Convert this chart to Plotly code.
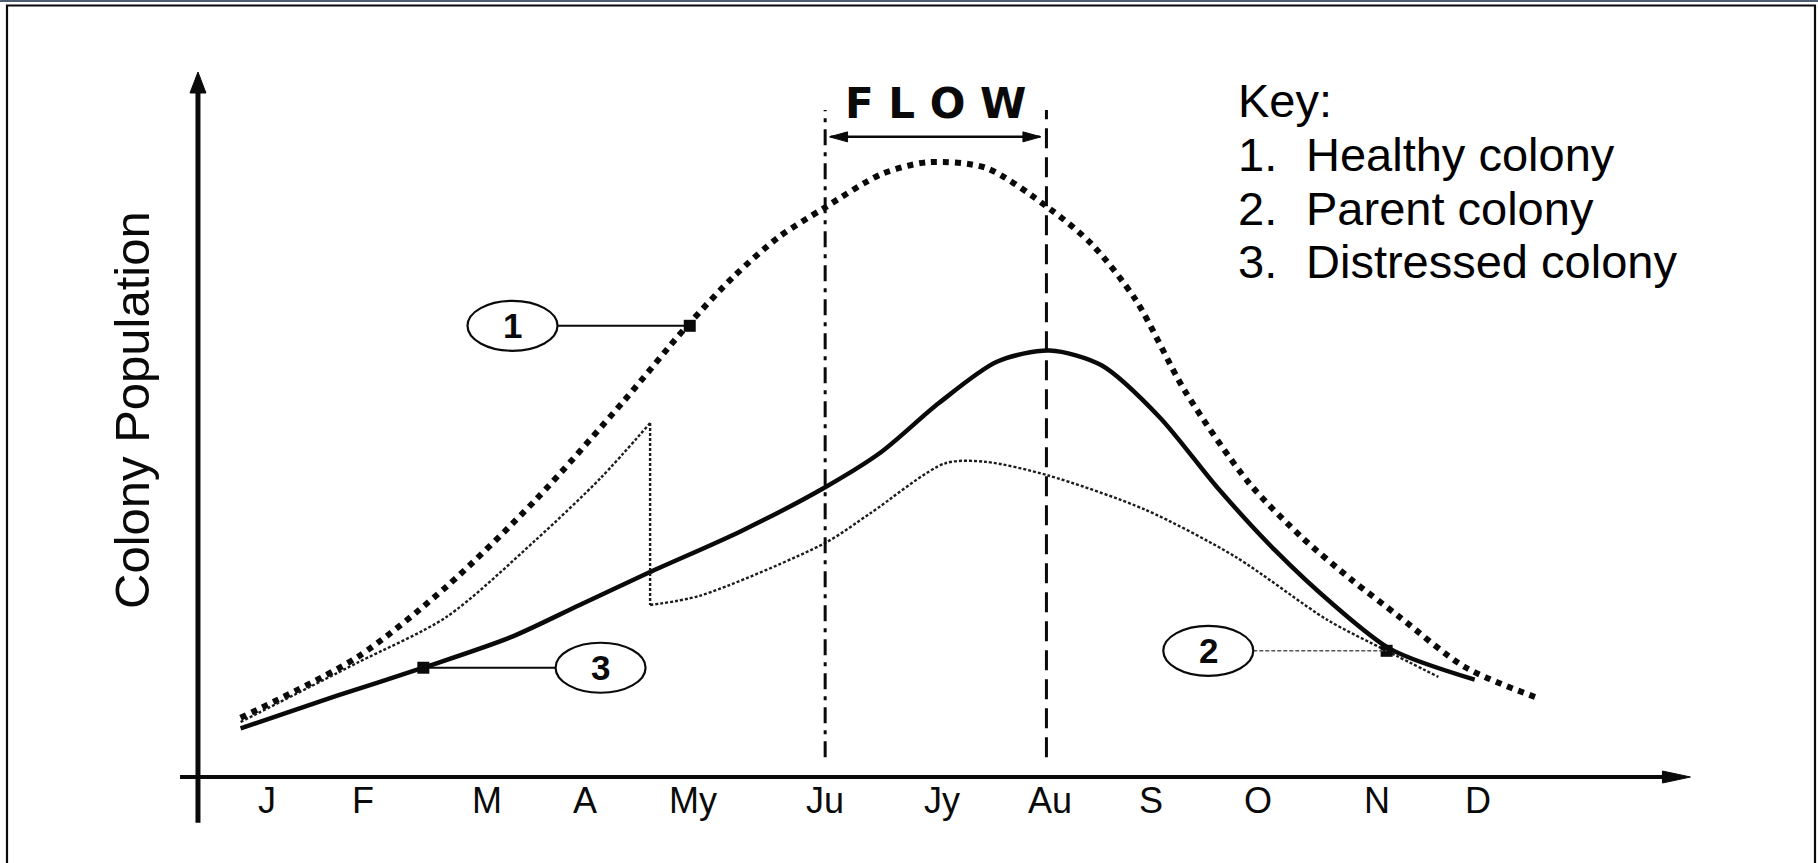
import plotly.graph_objects as go

# ---------------- data ----------------
months = ["J", "F", "M", "A", "My", "Ju", "Jy", "Au", "S", "O", "N", "D"]
# month label positions as drawn on the (hand-drawn) time axis
month_pos = [1.00, 1.87, 3.00, 3.89, 4.87, 6.07, 7.13, 8.11, 9.03, 10.00, 11.08, 12.00]

# 1. Healthy colony (thick dotted)
healthy_x = [0.76, 1.82, 2.63, 3.44, 4.25, 4.80, 5.24, 5.65, 6.05, 6.58, 7.00, 7.53,
             8.11, 8.49, 8.89, 9.34, 9.92, 10.40, 10.85, 11.28, 11.88, 12.56]
healthy_y = [8.4, 17.0, 27.0, 39.3, 53.5, 63.7, 71.0, 76.6, 80.6, 85.5, 87.2, 86.4,
             80.6, 75.6, 67.7, 54.7, 41.7, 34.0, 28.0, 22.8, 15.6, 11.1]

# 2. Parent colony (thin dotted, drops when it swarms)
parent_x = [0.76, 1.82, 2.63, 3.44, 4.03, 4.48, 4.48, 4.93, 6.07, 6.48, 7.16, 7.53,
            8.09, 8.98, 9.80, 10.63, 11.17, 11.64]
parent_y = [7.8, 16.2, 22.7, 33.6, 42.4, 50.2, 24.4, 25.7, 33.2, 37.4, 44.5, 44.7,
            42.8, 37.9, 31.2, 22.3, 17.9, 14.2]
swarm_index = 5  # last point before the drop

# 3. Distressed colony (solid)
distressed_x = [0.76, 1.63, 2.42, 3.21, 3.84, 4.47, 5.31, 6.07, 6.58, 7.10, 7.63, 8.11,
                8.58, 9.11, 9.63, 10.16, 10.69, 11.21, 11.97]
distressed_y = [6.9, 11.5, 15.5, 19.8, 24.4, 29.0, 34.9, 41.1, 46.1, 53.0, 58.9, 60.5,
                58.4, 51.0, 41.1, 32.1, 24.4, 18.1, 13.8]

# nectar flow period (Ju .. Au)
flow_start = 6.07
flow_end = 8.08

# numbered callouts
callout_ids = ["1", "2", "3"]
callout_target_x = [4.84, 11.17, 2.42]
callout_target_y = [64.0, 17.9, 15.5]
callout_circle_x = [3.23, 9.55, 4.03]

key_numbers = ["1.", "2.", "3."]
key_labels = ["Healthy colony", "Parent colony", "Distressed colony"]

# ---------------- geometry of the drawing ----------------
W, H = 1818, 863
PX_PER_MONTH = 110.09
PX_PER_UNIT = 7.05
X_AXIS_PX = 777
x_lo = 1 - 267 / PX_PER_MONTH
x_hi = x_lo + W / PX_PER_MONTH
y_hi = X_AXIS_PX / PX_PER_UNIT
y_lo = y_hi - H / PX_PER_UNIT

INK = "#0a0a0a"
THIN = "#1c1c1c"

fig = go.Figure()

# curves
fig.add_trace(go.Scatter(x=healthy_x, y=healthy_y, mode="lines", name="Healthy colony",
                         line=dict(color=INK, width=6, dash="6px,6px", shape="spline", smoothing=0.8)))
fig.add_trace(go.Scatter(x=distressed_x, y=distressed_y, mode="lines", name="Distressed colony",
                         line=dict(color=INK, width=4.5, shape="spline", smoothing=0.8)))
fig.add_trace(go.Scatter(x=parent_x[:swarm_index + 1], y=parent_y[:swarm_index + 1], mode="lines",
                         name="Parent colony",
                         line=dict(color=THIN, width=2.4, dash="3px,2px", shape="spline", smoothing=0.8)))
fig.add_trace(go.Scatter(x=parent_x[swarm_index:swarm_index + 2], y=parent_y[swarm_index:swarm_index + 2],
                         mode="lines", name="Parent colony (swarm)",
                         line=dict(color=THIN, width=2.4, dash="3px,2px")))
fig.add_trace(go.Scatter(x=parent_x[swarm_index + 1:], y=parent_y[swarm_index + 1:], mode="lines",
                         name="Parent colony (after swarm)",
                         line=dict(color=THIN, width=2.4, dash="3px,2px", shape="spline", smoothing=0.8)))

# callout target markers
fig.add_trace(go.Scatter(x=callout_target_x, y=callout_target_y, mode="markers",
                         marker=dict(symbol="square", size=12, color=INK), hoverinfo="skip"))

shapes = []
annotations = []

# outer frame
shapes.append(dict(type="rect", xref="paper", yref="paper", x0=0, x1=1, y0=1 - 2 / H, y1=1,
                   fillcolor="#4d5d72", line=dict(width=0), layer="below"))
shapes.append(dict(type="rect", xref="paper", yref="paper", x0=7 / W, x1=1815 / W, y0=-0.02,
                   y1=1 - 5.5 / H, line=dict(color=INK, width=2.2), layer="below"))

# axes (with arrow heads)
y_axis_x = 0.373
x_axis_start = 0.21
x_axis_tip = 13.93
y_axis_bottom = -6.5
y_axis_tip = 100.0
shapes.append(dict(type="line", xref="x", yref="y", x0=x_axis_start, x1=x_axis_tip - 0.2, y0=0, y1=0,
                   line=dict(color=INK, width=4)))
shapes.append(dict(type="line", xref="x", yref="y", x0=y_axis_x, x1=y_axis_x, y0=y_axis_bottom,
                   y1=y_axis_tip - 2.5, line=dict(color=INK, width=5)))
shapes.append(dict(type="path", xref="x", yref="y", xsizemode="pixel", ysizemode="pixel",
                   xanchor=y_axis_x, yanchor=y_axis_tip, path="M0,0 L-8,-21 L8,-21 Z",
                   fillcolor=INK, line=dict(color=INK, width=1)))
shapes.append(dict(type="path", xref="x", yref="y", xsizemode="pixel", ysizemode="pixel",
                   xanchor=x_axis_tip, yanchor=0, path="M0,0 L-28,6 L-28,-6 Z",
                   fillcolor=INK, line=dict(color=INK, width=1)))

# flow period: vertical dashed lines and double arrow
for fx, dash in ((flow_start, "16px,7px,4px,7px"), (flow_end, "20px,9px")):
    shapes.append(dict(type="line", xref="x", yref="y", x0=fx, x1=fx, y0=2.8, y1=94.6,
                       line=dict(color=INK, width=3, dash=dash)))
flow_arrow_y = 90.8
shapes.append(dict(type="line", xref="x", yref="y", x0=flow_start + 0.05, x1=flow_end - 0.06,
                   y0=flow_arrow_y, y1=flow_arrow_y, line=dict(color=INK, width=2.5)))
shapes.append(dict(type="path", xref="x", yref="y", xsizemode="pixel", ysizemode="pixel",
                   xanchor=flow_start + 0.04, yanchor=flow_arrow_y, path="M0,0 L18,5 L18,-5 Z",
                   fillcolor=INK, line=dict(color=INK, width=1)))
shapes.append(dict(type="path", xref="x", yref="y", xsizemode="pixel", ysizemode="pixel",
                   xanchor=flow_end - 0.05, yanchor=flow_arrow_y, path="M0,0 L-18,5 L-18,-5 Z",
                   fillcolor=INK, line=dict(color=INK, width=1)))
annotations.append(dict(x=(flow_start + flow_end) / 2, y=95.6, xref="x", yref="y",
                        text="F\u00a0L\u00a0O\u00a0W",
                        showarrow=False, xanchor="center", yanchor="middle",
                        font=dict(family="DejaVu Sans", size=42, color=INK, weight=700)))

# callouts: leader lines, circles and numbers
half_w = 45 / PX_PER_MONTH
for cid, tx, ty, cx in zip(callout_ids, callout_target_x, callout_target_y, callout_circle_x):
    edge = cx + half_w if tx > cx else cx - half_w
    leader_style = dict(color="#555555", width=1.6, dash="4px,2px") if cid == "2" else dict(color=INK, width=2)
    shapes.append(dict(type="line", xref="x", yref="y", x0=edge, x1=tx, y0=ty, y1=ty, line=leader_style))
    shapes.append(dict(type="circle", xref="x", yref="y", xsizemode="pixel", ysizemode="pixel",
                       xanchor=cx, yanchor=ty, x0=-45, x1=45, y0=-25, y1=25,
                       fillcolor="white", line=dict(color=INK, width=2.2)))
    annotations.append(dict(x=cx, y=ty, xref="x", yref="y", text=cid, showarrow=False,
                            xanchor="center", yanchor="middle",
                            font=dict(family="Liberation Sans", size=35, color=INK, weight=700)))

# month labels
for m, pos in zip(months, month_pos):
    annotations.append(dict(x=pos, y=-3.3, xref="x", yref="y", text=m, showarrow=False,
                            xanchor="center", yanchor="middle",
                            font=dict(family="Liberation Sans", size=36, color=INK)))

# y-axis title
annotations.append(dict(x=132 / W, y=1 - 410 / H, xref="paper", yref="paper", text="Colony Population",
                        showarrow=False, textangle=-90, xanchor="center", yanchor="middle",
                        font=dict(family="Liberation Sans Narrow, Liberation Sans", size=49, color=INK)))

# key
key_font = dict(family="Liberation Sans", size=47, color="black")
annotations.append(dict(x=1236 / W, y=1 - 100.5 / H, xref="paper", yref="paper", text="Key:",
                        showarrow=False, xanchor="left", yanchor="middle", font=key_font))
for i, (num, lab) in enumerate(zip(key_numbers, key_labels)):
    yc = 1 - (154.5 + 53.7 * i) / H
    annotations.append(dict(x=1236 / W, y=yc, xref="paper", yref="paper", text=num, showarrow=False,
                            xanchor="left", yanchor="middle", font=key_font))
    annotations.append(dict(x=1304 / W, y=yc, xref="paper", yref="paper", text=lab, showarrow=False,
                            xanchor="left", yanchor="middle", font=key_font))

fig.update_layout(
    width=W, height=H, autosize=False,
    margin=dict(l=0, r=0, t=0, b=0, pad=0),
    paper_bgcolor="white", plot_bgcolor="white",
    showlegend=False,
    xaxis=dict(range=[x_lo, x_hi], visible=False, fixedrange=True),
    yaxis=dict(range=[y_lo, y_hi], visible=False, fixedrange=True),
    shapes=shapes, annotations=annotations,
)

fig.write_html("out.html", config={"displayModeBar": False},
               post_script="document.body.style.margin='0px';document.body.style.overflow='hidden';")
